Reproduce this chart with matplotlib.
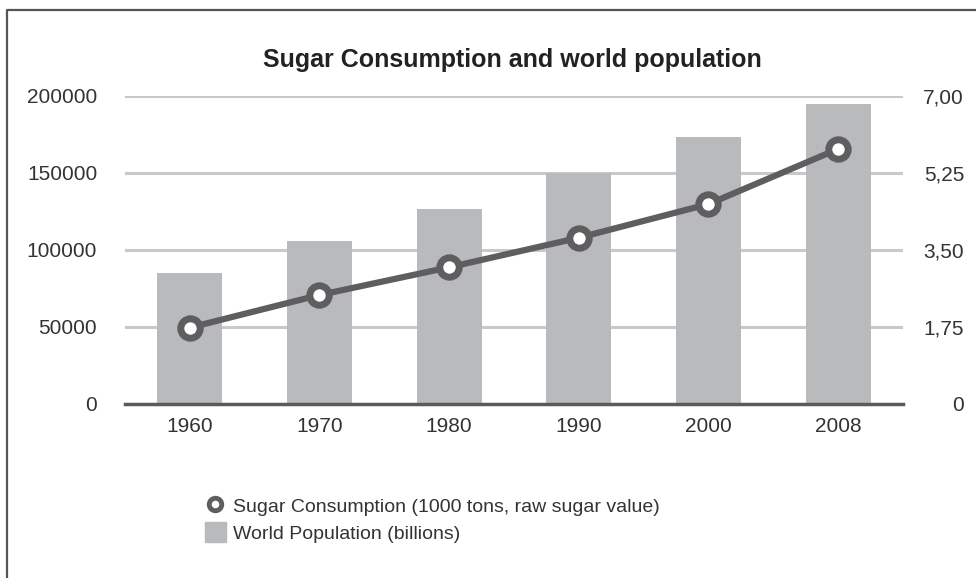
import matplotlib.pyplot as plt
from matplotlib.lines import Line2D
from matplotlib.patches import Patch

years = ['1960', '1970', '1980', '1990', '2000', '2008']
population = [2.96, 3.70, 4.42, 5.25, 6.07, 6.80]
sugar = [49300, 70500, 88500, 107700, 129600, 165400]

sugar_ticks = [0, 50000, 100000, 150000, 200000]
sugar_labels = ['0', '50000', '100000', '150000', '200000']
pop_ticks = [0, 1.75, 3.5, 5.25, 7.0]
pop_labels = ['0', '1,75', '3,50', '5,25', '7,00']

bar_color = '#b9babc'
line_color = '#5e5e60'
text_color = '#333333'

plt.rcParams['font.family'] = ['Liberation Sans', 'DejaVu Sans']

W, H = 976, 578
fig = plt.figure(figsize=(W / 100, H / 100), dpi=100)
ax = fig.add_axes([125 / W, 1 - 403.5 / H, (903 - 125) / W, (403.5 - 95.7) / H])
ax2 = ax.twinx()

# bars on ax (population scale, shown on the right), line on ax2 (left)
x = range(len(years))
ax.bar(x, population, width=0.5, color=bar_color, zorder=2)
ax.set_ylim(0, 7)
ax.set_xlim(-0.5, len(years) - 0.5)
ax.set_yticks(pop_ticks)
ax.set_yticklabels(pop_labels)
ax.yaxis.tick_right()
ax.grid(axis='y', color='#c9c9cb', lw=2.2, zorder=0)
ax.set_axisbelow(True)
ax.set_xticks(list(x))
ax.set_xticklabels(years)

ax2.plot(x, sugar, color=line_color, lw=4.5, marker='o', ms=14,
         mfc='white', mec=line_color, mew=5, zorder=3)
ax2.set_ylim(0, 200000)
ax2.set_yticks(sugar_ticks)
ax2.set_yticklabels(sugar_labels)
ax2.yaxis.tick_left()

for a in (ax, ax2):
    for s in ('top', 'left', 'right', 'bottom'):
        a.spines[s].set_visible(False)
    a.tick_params(length=0, labelsize=15, labelcolor=text_color)
ax.axhline(0, color='#5a5a5a', lw=2.5, zorder=4, clip_on=False)

ax.tick_params(axis='x', pad=10)
ax2.tick_params(axis='y', pad=20)
ax.tick_params(axis='y', pad=44)
for lab in ax.get_yticklabels():
    lab.set_horizontalalignment('right')

fig.text(512 / W, 1 - 60 / H, 'Sugar Consumption and world population',
         ha='center', va='center', fontsize=18, fontweight='bold',
         color='#222222')

handles = [Line2D([], [], ls='none', marker='o', ms=9, mfc='white',
                  mec=line_color, mew=3.5),
           Patch(color=bar_color)]
labels = ['Sugar Consumption (1000 tons, raw sugar value)',
          'World Population (billions)']
fig.legend(handles, labels, loc='upper left',
           bbox_to_anchor=(195 / W, 1 - 486 / H), frameon=False,
           fontsize=14, handlelength=1.1, handleheight=1.2,
           handletextpad=0.35, labelspacing=0.3, borderpad=0,
           labelcolor=text_color)

# frame of the original screenshot
fig.add_artist(Line2D([7 / W, 7 / W, 1], [0, 1 - 10 / H, 1 - 10 / H],
                      color='#555555', lw=1.6))

fig.savefig('out.png', dpi=100)
